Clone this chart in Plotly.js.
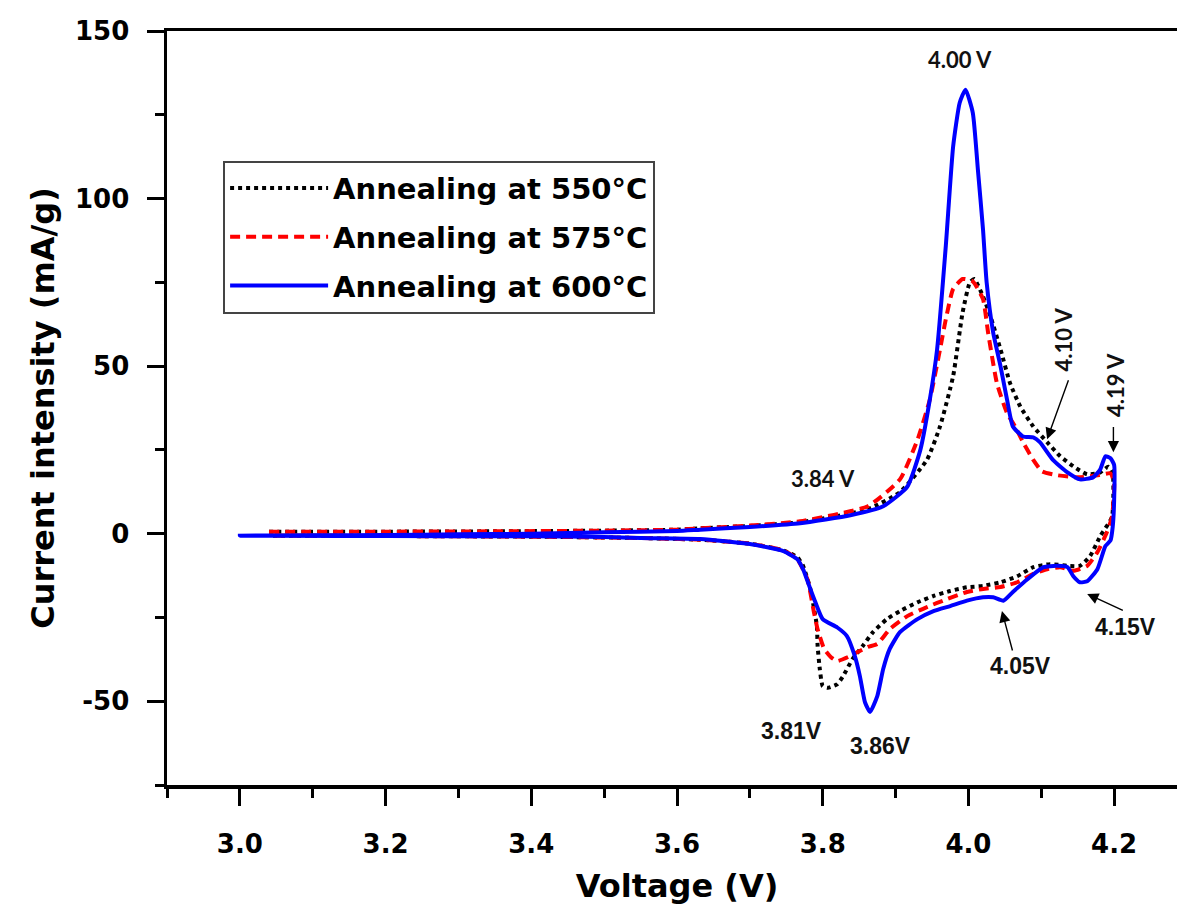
<!DOCTYPE html>
<html>
<head>
<meta charset="utf-8">
<script src="https://cdn.plot.ly/plotly-3.0.1.min.js"></script>
<style>
  html, body { margin: 0; padding: 0; background: #fff; overflow: hidden; }
  #chart { width: 1200px; height: 915px; }
</style>
</head>
<body>
<div id="chart"></div>
<script>
// ---- Data (voltage in V, current in mA/g) ----
const seriesNames = ["Annealing at 550°C", "Annealing at 575°C", "Annealing at 600°C"];

const v550 = [3.04,3.20,3.35,3.50,3.60,3.632,3.70,3.769,3.862,3.906,3.943,3.961,3.979,3.992,4.002,4.008,4.020,4.030,4.044,4.057,4.071,4.089,4.108,4.126,4.144,4.163,4.181,4.192,4.198,4.197,
  4.181,4.167,4.153,4.136,4.112,4.089,4.067,4.044,4.020,3.998,3.975,3.952,3.930,3.906,3.888,3.869,3.855,3.841,3.828,3.820,3.807,3.800,3.796,3.793,3.792,3.789,3.783,3.773,3.765,3.746,3.70,3.632,3.55,3.40,3.20,3.04];
const i550 = [0.6,0.6,0.7,0.9,1.2,1.6,2.3,3.4,7.3,12.4,22,32,47,66,75,76,70.8,65,55,45,38,32,27.3,23.1,20.1,17.7,18.3,20,18,5,
  -0.7,-6.7,-9.6,-9.6,-9.1,-10,-12.7,-14.5,-15.6,-16,-17.1,-18.6,-20.5,-23.1,-25.5,-29.4,-33.5,-37.4,-42.5,-44.9,-46,-45.5,-40.4,-33.5,-27.6,-23.5,-16.5,-9.6,-7,-5,-3,-1.8,-1.3,-0.9,-0.7,-0.6];

const v575 = [3.04,3.20,3.35,3.50,3.60,3.632,3.70,3.769,3.862,3.906,3.930,3.947,3.961,3.969,3.979,3.992,4.006,4.020,4.027,4.039,4.053,4.064,4.075,4.089,4.101,4.12,4.15,4.18,4.195,4.200,4.197,
  4.190,4.177,4.163,4.144,4.126,4.108,4.089,4.067,4.044,4.020,3.998,3.971,3.943,3.916,3.892,3.875,3.862,3.848,3.835,3.820,3.811,3.802,3.793,3.788,3.779,3.765,3.746,3.70,3.632,3.55,3.40,3.20,3.04];
const i575 = [0.6,0.6,0.7,0.9,1.2,1.6,2.4,3.7,8.2,16.2,28,40,55,64,73,76,75.3,70,60,45,36,32,27.3,22,18.6,17.5,16.8,17.5,18,15,5,
  0.4,-5.5,-9.6,-11.1,-10,-10.6,-12,-14.5,-15.9,-16.5,-17.4,-19.5,-21.9,-24.6,-28.5,-32.9,-33.8,-35.3,-36.8,-38,-36.8,-34.4,-28.5,-23.5,-13.6,-7.6,-5,-3,-1.8,-1.3,-0.9,-0.7,-0.6];

const v600 = [3.00,3.10,3.20,3.30,3.40,3.50,3.60,3.632,3.70,3.769,3.838,3.883,3.916,3.934,3.947,3.957,3.969,3.979,3.988,3.996,4.006,4.013,4.020,4.025,4.034,4.044,4.053,4.061,4.075,4.089,4.098,4.116,4.136,4.153,4.171,4.181,4.188,4.195,4.200,4.200,4.198,
  4.195,4.188,4.177,4.163,4.153,4.144,4.136,4.122,4.103,4.081,4.061,4.048,4.034,4.020,3.998,3.975,3.952,3.930,3.906,3.892,3.883,3.875,3.865,3.858,3.851,3.844,3.833,3.820,3.800,3.790,3.783,3.773,3.765,3.746,3.700,3.632,3.55,3.50,3.40,3.20,3.00];
const i600 = [-0.6,-0.5,-0.4,-0.2,0.0,0.4,0.8,1.2,2.0,3.1,5.5,8.2,14,25,40,55,86,115.5,128.6,132.5,125.6,108.6,90.8,75,60,50,40,32,29,28.7,27.3,22,18.3,16.2,16.8,19.2,23.1,22.5,20.5,10,2,
  -2,-3.7,-10.6,-14.2,-14.5,-12.7,-10,-9.6,-10,-13.6,-17.4,-20,-19,-19,-20,-21.6,-23.1,-25.5,-29.4,-34.4,-40.4,-48.4,-53.2,-50.3,-42.5,-36.5,-30.5,-28,-25.5,-20.5,-16.5,-10.6,-7.6,-5.2,-3.1,-1.6,-1.3,-1.0,-0.8,-0.7,-0.6];

const xTickVals = [3.0, 3.2, 3.4, 3.6, 3.8, 4.0, 4.2];
const xTickText = ["3.0", "3.2", "3.4", "3.6", "3.8", "4.0", "4.2"];
const yTickVals = [-50, 0, 50, 100, 150];
const yTickText = ["-50", "0", "50", "100", "150"];

// peak labels: [text, voltage, current]
const peakLabels = [
  ["4.00 V", 3.989, 141.6],
  ["3.84 V", 3.801, 16.4],
  ["4.05V", 4.071, -39.5],
  ["4.15V", 4.215, -27.9],
  ["3.81V", 3.757, -58.9],
  ["3.86V", 3.879, -63.3]
];
const rotatedLabels = [
  ["4.10 V", 4.130, 58],
  ["4.19 V", 4.201, 44.3]
];
// arrows: [head V, head I, tail V, tail I]
const arrows = [
  [4.108, 28.2, 4.138, 46.2],
  [4.199, 24.3, 4.199, 32.3],
  [4.046, -23.1, 4.061, -35.3],
  [4.163, -18.0, 4.214, -23.1]
];

// ---- Traces ----
const traces = [
  { x: v550, y: i550, name: seriesNames[0], legendgroup: "a", mode: "lines",
    line: { color: "#000000", width: 4, dash: "4px,4px", shape: "spline", smoothing: 0.5 } },
  { x: v575, y: i575, name: seriesNames[1], legendgroup: "b", mode: "lines",
    line: { color: "#ff0000", width: 4, dash: "10px,6px", shape: "spline", smoothing: 0.5 } },
  { x: v600, y: i600, name: seriesNames[2], legendgroup: "c", mode: "lines",
    line: { color: "#0000ff", width: 4, shape: "spline", smoothing: 0.5 } }
];

const annFontA = { family: "Lato, 'Liberation Sans', sans-serif", size: 22, color: "#111", weight: "bold" };
const annFontB = { family: "'Liberation Sans', Arial, sans-serif", size: 23, color: "#111", weight: "bold" };

const annotations = [];
peakLabels.forEach((p, k) => {
  annotations.push({ x: p[1], y: p[2], xref: "x", yref: "y", text: p[0], showarrow: false,
    font: k < 2 ? annFontA : annFontB });
});
rotatedLabels.forEach(p => {
  annotations.push({ x: p[1], y: p[2], xref: "x", yref: "y", text: p[0], showarrow: false,
    textangle: -90, font: annFontA });
});
arrows.forEach(a => {
  annotations.push({ x: a[0], y: a[1], xref: "x", yref: "y", ax: a[2], ay: a[3], axref: "x", ayref: "y",
    text: "", showarrow: true, arrowhead: 2, arrowsize: 1.6, arrowwidth: 1.4, arrowcolor: "#000" });
});

const tickFont = { family: "'DejaVu Sans', sans-serif", size: 26, color: "#000", weight: "bold" };
const titleFont = { family: "'DejaVu Sans', sans-serif", size: 32, color: "#000", weight: "bold" };

const layout = {
  width: 1200, height: 915,
  margin: { l: 167, r: 13, t: 31, b: 130 },
  paper_bgcolor: "#fff", plot_bgcolor: "#fff",
  showlegend: true,
  legend: {
    x: 0.055, y: 0.828, xanchor: "left", yanchor: "top",
    bgcolor: "#fff", bordercolor: "#444", borderwidth: 2,
    font: { family: "'DejaVu Sans', sans-serif", size: 29, color: "#000", weight: "bold" },
    traceorder: "grouped", tracegroupgap: 8, itemwidth: 98
  },
  xaxis: {
    range: [2.9, 4.3], showgrid: false, zeroline: false,
    showline: true, linecolor: "#000", linewidth: 3.5, mirror: true,
    ticks: "outside", ticklen: 17, tickwidth: 3, tickcolor: "#000",
    tickvals: xTickVals, ticktext: xTickText, tickfont: tickFont, ticklabelstandoff: 16,
    minor: { dtick: 0.1, tick0: 2.9, ticks: "outside", ticklen: 9, tickwidth: 3, tickcolor: "#000" },
    title: { text: "Voltage (V)", font: titleFont, standoff: 18 }
  },
  yaxis: {
    range: [-75, 150], showgrid: false, zeroline: false,
    showline: true, linecolor: "#000", linewidth: 3.5, mirror: true,
    ticks: "outside", ticklen: 17, tickwidth: 3, tickcolor: "#000",
    tickvals: yTickVals, ticktext: yTickText, tickfont: tickFont, ticklabelstandoff: 12,
    minor: { dtick: 25, tick0: 0, ticks: "outside", ticklen: 9, tickwidth: 3, tickcolor: "#000" },
    title: { text: "Current intensity (mA/g)", font: titleFont, standoff: 12 }
  },
  annotations: annotations
};

Plotly.newPlot("chart", traces, layout, { displayModeBar: false, staticPlot: true });
</script>
</body>
</html>
